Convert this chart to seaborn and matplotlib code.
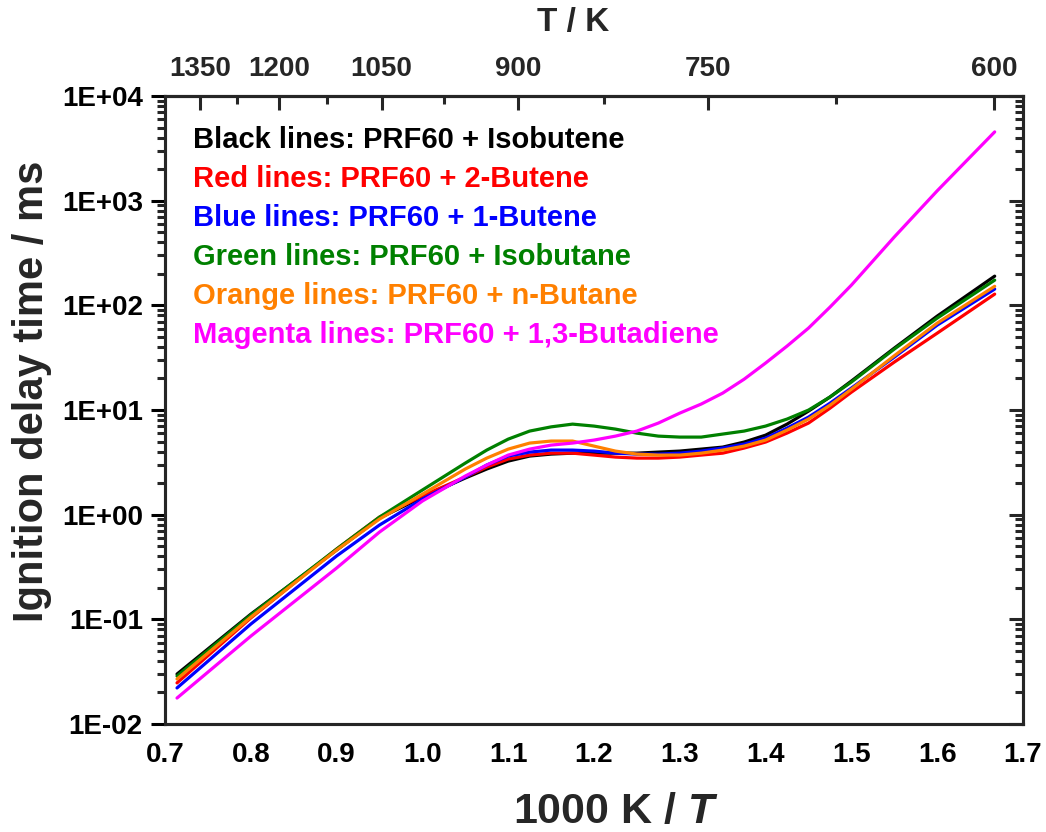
import numpy as np
import pandas as pd
import matplotlib
matplotlib.use("Agg")
import matplotlib.pyplot as plt
import seaborn as sns
from matplotlib.ticker import FixedLocator, LogLocator, NullFormatter, FuncFormatter, MultipleLocator

# ---------------- data ----------------
inv_T = [0.714, 0.80, 0.90, 0.95, 1.00, 1.05, 1.075, 1.10, 1.125, 1.15,
         1.175, 1.20, 1.225, 1.25, 1.275, 1.30, 1.325, 1.35, 1.375, 1.40,
         1.425, 1.45, 1.475, 1.50, 1.55, 1.60, 1.667]

tau_isobutene = [0.0300, 0.112, 0.459, 0.928, 1.47, 2.24, 2.73, 3.25, 3.63, 3.79,
                 3.87, 3.87, 3.87, 3.87, 3.96, 4.05, 4.23, 4.42, 4.94, 5.75,
                 7.33, 9.76, 13.3, 18.9, 39.0, 78.9, 190]
tau_2butene = [0.0247, 0.103, 0.469, 0.948, 1.51, 2.29, 2.85, 3.40, 3.71, 3.87,
               3.87, 3.71, 3.55, 3.47, 3.47, 3.55, 3.71, 3.87, 4.33, 4.94,
               6.02, 7.50, 10.4, 14.8, 28.7, 54.2, 128]
tau_1butene = [0.0221, 0.0901, 0.403, 0.796, 1.41, 2.29, 2.98, 3.63, 3.96, 4.14,
               4.14, 4.05, 3.87, 3.79, 3.79, 3.87, 4.05, 4.33, 4.72, 5.39,
               6.72, 8.55, 11.6, 16.2, 32.0, 64.7, 143]
tau_isobutane = [0.0287, 0.110, 0.469, 0.948, 1.72, 3.11, 4.14, 5.27, 6.29, 6.90,
                 7.33, 7.02, 6.57, 6.01, 5.63, 5.51, 5.51, 5.89, 6.29, 7.02,
                 8.19, 9.98, 13.3, 18.5, 38.2, 75.5, 174]
tau_nbutane = [0.0269, 0.105, 0.459, 0.908, 1.57, 2.73, 3.47, 4.23, 4.83, 5.05,
               5.05, 4.52, 4.05, 3.79, 3.71, 3.71, 3.87, 4.14, 4.52, 5.16,
               6.43, 8.19, 11.1, 15.8, 33.0, 67.6, 152]
tau_butadiene = [0.0177, 0.0691, 0.309, 0.682, 1.35, 2.34, 2.98, 3.71, 4.23, 4.62,
                 4.83, 5.16, 5.63, 6.29, 7.50, 9.34, 11.4, 14.5, 19.7, 28.1,
                 40.8, 60.6, 96.1, 156, 450, 1242, 4540]

series_names = ["Isobutene", "2-Butene", "1-Butene", "Isobutane", "n-Butane", "1,3-Butadiene"]
series_colors = ["#000000", "#FF0000", "#0000FF", "#008000", "#FF8000", "#FF00FF"]
series_values = [tau_isobutene, tau_2butene, tau_1butene, tau_isobutane, tau_nbutane, tau_butadiene]
legend_lines = [
    "Black lines: PRF60 + Isobutene",
    "Red lines: PRF60 + 2-Butene",
    "Blue lines: PRF60 + 1-Butene",
    "Green lines: PRF60 + Isobutane",
    "Orange lines: PRF60 + n-Butane",
    "Magenta lines: PRF60 + 1,3-Butadiene",
]

top_T_major = [1350, 1200, 1050, 900, 750, 600]
top_T_minor = [1275, 1125, 975, 825, 675]
y_decades = [-2, -1, 0, 1, 2, 3, 4]

# ---------------- build table ----------------
frames = []
for name, vals in zip(series_names, series_values):
    frames.append(pd.DataFrame({"x": inv_T, "tau": vals, "series": name}))
df = pd.concat(frames, ignore_index=True)

# ---------------- style ----------------
sns.set_style("white")
plt.rcParams["font.family"] = ["Liberation Sans", "DejaVu Sans"]
plt.rcParams["font.weight"] = "bold"
plt.rcParams["mathtext.fontset"] = "custom"
plt.rcParams["mathtext.it"] = "Liberation Sans:bold:italic"
plt.rcParams["mathtext.rm"] = "Liberation Sans:bold"
plt.rcParams["mathtext.bf"] = "Liberation Sans:bold"
plt.rcParams["lines.solid_joinstyle"] = "round"

fig = plt.figure(figsize=(10.46, 8.32), dpi=100)
ax = fig.add_axes([165 / 1046, 1 - 724 / 832, (1023 - 165) / 1046, (724 - 96) / 832])

sns.lineplot(data=df, x="x", y="tau", hue="series", hue_order=series_names,
             palette=dict(zip(series_names, series_colors)), linewidth=2.3,
             legend=False, sort=False, estimator=None, ax=ax)

ax.set_yscale("log")
ax.set_xlim(0.7, 1.7)
ax.set_ylim(1e-2, 1e4)

lw = 2.2
for sp in ax.spines.values():
    sp.set_linewidth(lw)
    sp.set_color("black")

ax.xaxis.set_major_locator(MultipleLocator(0.1))
ax.xaxis.set_minor_locator(MultipleLocator(0.05))
ax.xaxis.set_major_formatter(FuncFormatter(lambda v, p: f"{v:.1f}"))
ax.yaxis.set_major_locator(FixedLocator([10.0 ** d for d in y_decades]))
ax.yaxis.set_minor_locator(LogLocator(base=10, subs=np.arange(2, 10), numticks=30))
ax.yaxis.set_minor_formatter(NullFormatter())
ax.yaxis.set_major_formatter(FuncFormatter(lambda v, p: f"1E{int(round(np.log10(v))):+03d}"))

ax.tick_params(axis="both", which="major", direction="out", length=10, width=lw,
               labelsize=20, top=False, right=False, colors="black")
ax.tick_params(axis="x", which="major", pad=3)
ax.tick_params(axis="y", which="major", pad=6)
ax.tick_params(axis="both", which="minor", direction="out", length=6, width=lw,
               top=False, right=False)
for lab in ax.get_xticklabels() + ax.get_yticklabels():
    lab.set_fontweight("bold")

ax.set_xlabel("1000 K / $T$", fontsize=31, fontweight="bold")
ax.xaxis.set_label_coords(0.526, -0.108)
ax.set_ylabel("Ignition delay time / ms", fontsize=30, fontweight="bold")
ax.yaxis.set_label_coords(-0.132, 0.53)

# right axis: inward ticks, no labels
axr = ax.twinx()
axr.set_yscale("log")
axr.set_ylim(ax.get_ylim())
axr.yaxis.set_major_locator(FixedLocator([10.0 ** d for d in y_decades]))
axr.yaxis.set_minor_locator(LogLocator(base=10, subs=np.arange(2, 10), numticks=30))
axr.yaxis.set_minor_formatter(NullFormatter())
axr.tick_params(axis="y", which="major", direction="in", length=10, width=lw, labelright=False)
axr.tick_params(axis="y", which="minor", direction="in", length=6, width=lw)
for sp in axr.spines.values():
    sp.set_linewidth(lw)

# top axis: temperature
sec = ax.secondary_xaxis("top")
sec.xaxis.set_major_locator(FixedLocator([1000.0 / t for t in top_T_major]))
sec.xaxis.set_major_formatter(FuncFormatter(lambda v, p: f"{1000.0 / v:.0f}"))
sec.xaxis.set_minor_locator(FixedLocator([1000.0 / t for t in top_T_minor]))
sec.tick_params(axis="x", which="major", direction="in", length=10, width=lw, labelsize=20, pad=10)
sec.tick_params(axis="x", which="minor", direction="in", length=6, width=lw)
for lab in sec.get_xticklabels():
    lab.set_fontweight("bold")
sec.spines["top"].set_linewidth(lw)
fig.text(573 / 1046, 1 - 22 / 832, "T / K", fontsize=24, fontweight="bold",
         ha="center", va="center")

# colored legend text
for i, (txt, col) in enumerate(zip(legend_lines, series_colors)):
    ax.text(0.0326, 0.917 - i * 0.0621, txt, color=col, fontsize=21,
            fontweight="bold", transform=ax.transAxes, va="baseline", ha="left")

fig.savefig("out.png", dpi=100)
